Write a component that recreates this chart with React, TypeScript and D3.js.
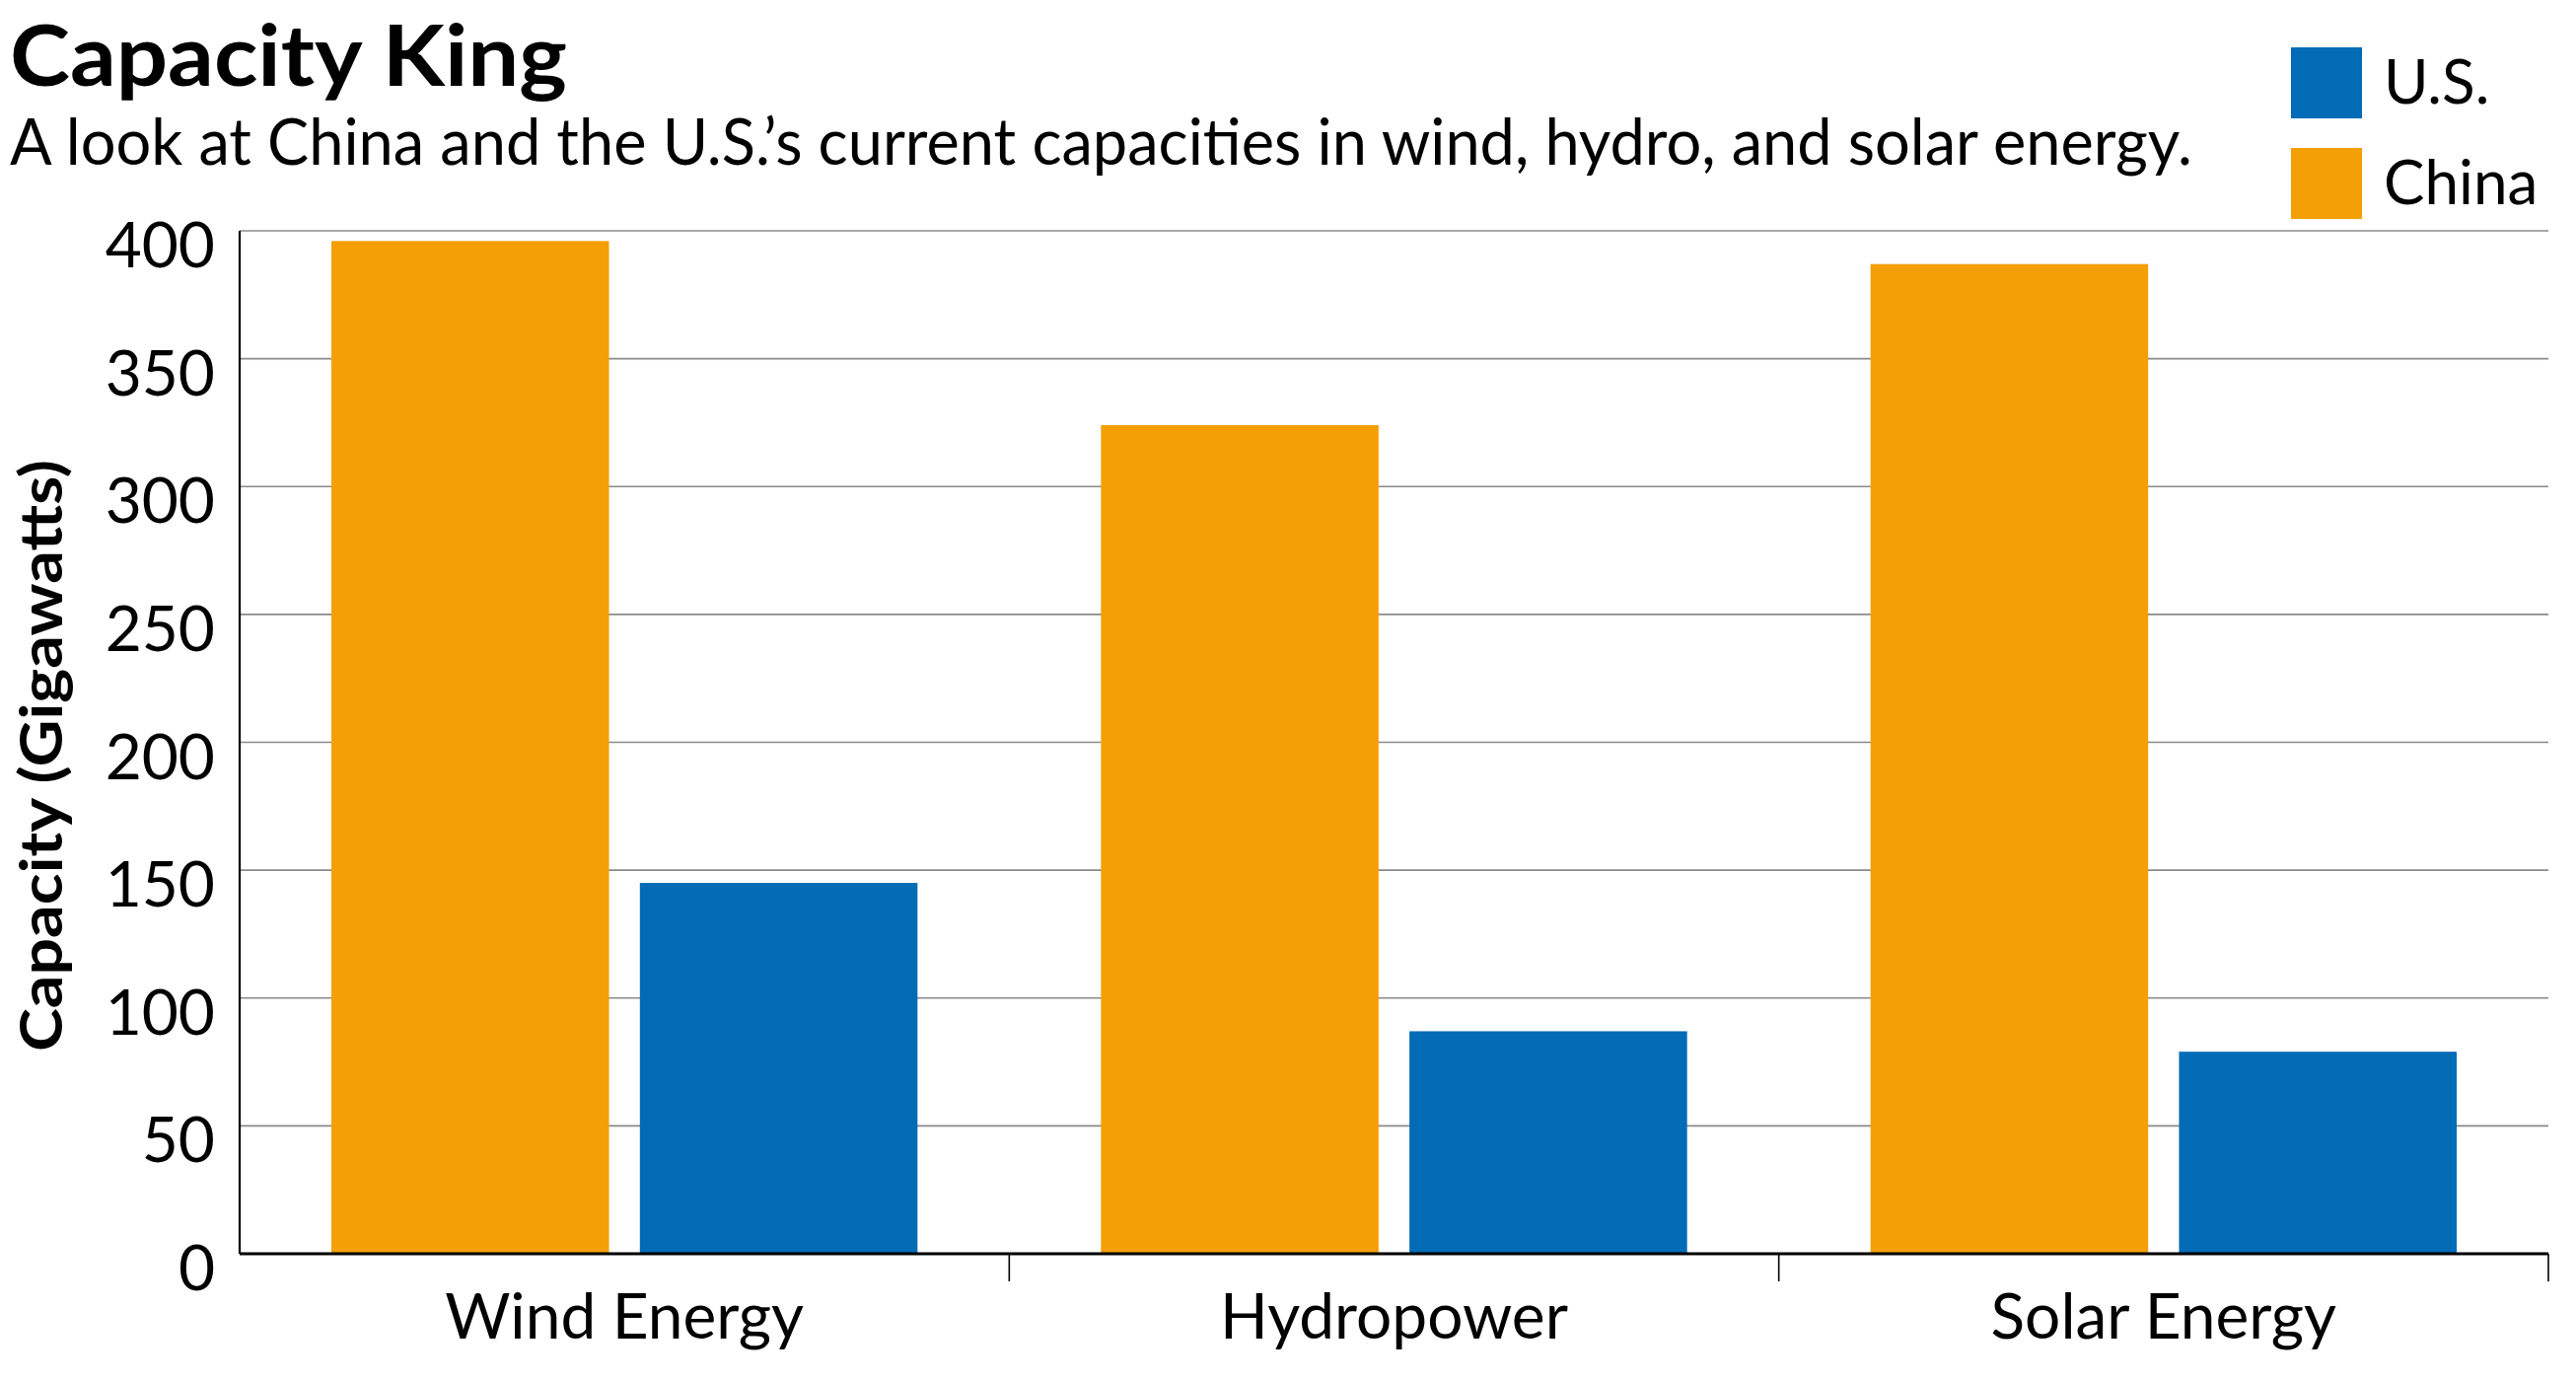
import React from "react";
import * as d3 from "d3";

const categories = ["Wind Energy", "Hydropower", "Solar Energy"];
const seriesNames = ["China", "U.S."];
const chinaValues = [396, 324, 387];
const usValues = [145, 87, 79];
const yTicks = [0, 50, 100, 150, 200, 250, 300, 350, 400];
const legendItems = ["U.S.", "China"];
const colors: Record<string, string> = { China: "#F49F05", "U.S.": "#016BB6" };

const FONT = "Lato, 'Noto Sans', sans-serif";

export default function App() {
  const W = 2612;
  const H = 1400;
  const left = 243;
  const right = 2584;
  const top = 234;
  const bottom = 1271;

  const x0 = d3.scaleBand<string>().domain(categories).range([left, right]).padding(0);
  const x1 = d3
    .scaleBand<string>()
    .domain(seriesNames)
    .range([93, x0.bandwidth() - 93])
    .paddingInner(0.1);
  const y = d3.scaleLinear().domain([0, 400]).range([bottom, top]);

  const data = categories.map((c, i) => ({
    category: c,
    values: [
      { key: "China", value: chinaValues[i] },
      { key: "U.S.", value: usValues[i] },
    ],
  }));

  return (
    <svg
      width={W}
      height={H}
      style={{ position: "absolute", left: 0, top: 0, background: "#fff" }}
      fontFamily={FONT}
    >
      <rect x={0} y={0} width={W} height={H} fill="#fff" />
      {/* title */}
      <text x={10} y={87} fontSize={86} fontWeight={700} fill="#000" textLength={565} lengthAdjust="spacingAndGlyphs">
        Capacity King
      </text>
      <text x={10} y={167} fontSize={66} fill="#000" textLength={2213} lengthAdjust="spacingAndGlyphs">
        A look at China and the U.S.’s current capacities in wind, hydro, and solar energy.
      </text>

      {/* legend */}
      {legendItems.map((k, i) => (
        <g key={k} transform={`translate(2323, ${48 + i * 102})`}>
          <rect width={72} height={72} fill={colors[k]} />
          <text x={94} y={57} fontSize={62} fill="#000">
            {k}
          </text>
        </g>
      ))}

      {/* gridlines */}
      {yTicks
        .filter((t) => t > 0)
        .map((t) => (
          <line key={t} x1={left} x2={right} y1={y(t)} y2={y(t)} stroke="#8a8a8a" strokeWidth={1.6} />
        ))}

      {/* bars */}
      {data.map((d) => (
        <g key={d.category} transform={`translate(${x0(d.category)},0)`}>
          {d.values.map((v) => (
            <rect
              key={v.key}
              x={x1(v.key)}
              y={y(v.value)}
              width={x1.bandwidth()}
              height={y(0) - y(v.value)}
              fill={colors[v.key]}
            />
          ))}
        </g>
      ))}

      {/* y tick labels */}
      {yTicks.map((t) => (
        <text key={t} x={218} y={y(t) + 37} fontSize={64} textAnchor="end" fill="#000">
          {t}
        </text>
      ))}

      {/* axes */}
      <line x1={left} x2={left} y1={top} y2={bottom} stroke="#000" strokeWidth={2.2} />
      <line x1={left} x2={right} y1={bottom} y2={bottom} stroke="#000" strokeWidth={3.2} />
      {categories.map((c) => (
        <line
          key={c}
          x1={(x0(c) as number) + x0.bandwidth()}
          x2={(x0(c) as number) + x0.bandwidth()}
          y1={bottom}
          y2={bottom + 28}
          stroke="#000"
          strokeWidth={1.6}
        />
      ))}
      {categories.map((c) => (
        <text
          key={c}
          x={(x0(c) as number) + x0.bandwidth() / 2}
          y={1357}
          fontSize={64}
          textAnchor="middle"
          fill="#000"
        >
          {c}
        </text>
      ))}

      {/* y axis title */}
      <text
        transform="translate(63, 766) rotate(-90)"
        fontSize={60}
        fontWeight={700}
        textAnchor="middle"
        fill="#000"
        textLength={600}
        lengthAdjust="spacingAndGlyphs"
      >
        Capacity (Gigawatts)
      </text>
    </svg>
  );
}
